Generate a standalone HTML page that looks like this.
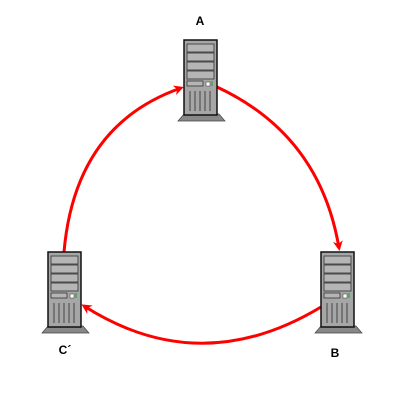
<!DOCTYPE html>
<html><head><meta charset="utf-8"><style>body{margin:0;background:#fff}svg{display:block}text{font-family:"Liberation Sans",sans-serif;font-size:12px;font-weight:bold}</style></head>
<body>
<svg width="400" height="400" viewBox="0 0 400 400">
<defs>
<g id="srv">
<polygon points="0,74 -6,81 41,81 35,74" fill="#888" stroke="#444" stroke-width="0.7"/>
<rect x="0" y="0" width="33" height="75" fill="#a6a6a6" stroke="#111" stroke-width="1.5"/>
<rect x="3" y="4" width="27" height="8" fill="#b5b5b5" stroke="#333" stroke-width="0.8"/>
<rect x="3" y="13" width="27" height="8" fill="#b5b5b5" stroke="#333" stroke-width="0.8"/>
<rect x="3" y="22" width="27" height="8" fill="#b5b5b5" stroke="#333" stroke-width="0.8"/>
<rect x="3" y="31" width="27" height="8" fill="#b5b5b5" stroke="#333" stroke-width="0.8"/>
<rect x="3" y="41" width="16" height="5" fill="#b5b5b5" stroke="#333" stroke-width="0.8"/>
<rect x="22" y="42" width="4" height="4" fill="#fff" stroke="#333" stroke-width="0.5"/>
<rect x="27" y="41" width="2" height="5" fill="#5a5"/>
<g stroke="#444" stroke-width="1"><line x1="6" y1="51" x2="6" y2="71"/><line x1="11" y1="51" x2="11" y2="71"/><line x1="16" y1="51" x2="16" y2="71"/><line x1="21" y1="51" x2="21" y2="71"/><line x1="26" y1="51" x2="26" y2="71"/></g>
</g>
<marker id="ah" markerWidth="10" markerHeight="10" refX="7" refY="5" orient="auto" markerUnits="userSpaceOnUse" viewBox="0 0 10 10"><path d="M0,0 L10,5 L0,10 L3,5 Z" fill="#f00"/></marker>
</defs>
<g fill="none" stroke="#f00" stroke-width="3" marker-end="url(#ah)">
<path d="M217,87 Q320,135 339,248"/>
<path d="M321,307 Q200,380 84,306"/>
<path d="M64,252 Q75,125 181,88"/>
</g>
<use href="#srv" x="184" y="40"/>
<use href="#srv" x="321" y="252"/>
<use href="#srv" x="48" y="252"/>
<text x="200" y="25" text-anchor="middle">A</text>
<text x="335" y="357" text-anchor="middle">B</text>
<text x="65" y="354" text-anchor="middle">C´</text>
</svg>
</body></html>
